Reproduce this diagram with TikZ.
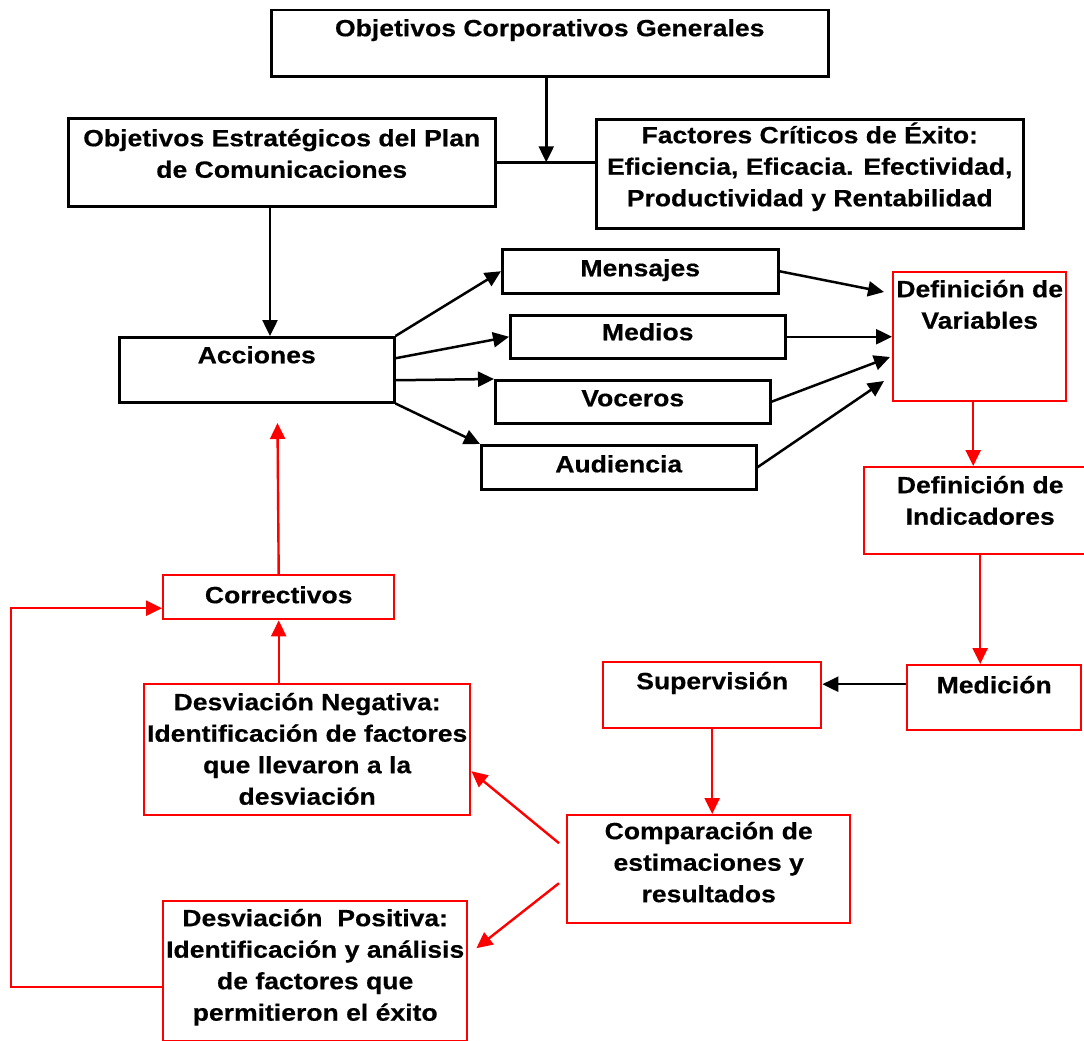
\documentclass[tikz,border=0pt]{standalone}
\usepackage{fontspec}
\setmainfont{Liberation Sans}[FakeStretch=1.13, BoldFeatures={FakeBold=0.5}]
\usetikzlibrary{arrows.meta,calc}
\newcommand{\cell}[4]{\parbox[t][#2pt][t]{#1pt}{\centering\vspace*{0pt}\rule{0pt}{#3pt}#4\par}}
\tikzset{
  bx/.style={draw=black, line width=2.5pt, inner sep=0pt, anchor=north west,
    font=\fontsize{23.5}{31.5}\selectfont\bfseries, text=black},
  rbx/.style={bx, draw=red, line width=2.4pt},
  ln/.style={line width=2.5pt, draw=black},
  arr/.style={ln, -{Triangle[length=16pt,width=15pt]}},
  rarr/.style={arr, draw=red, color=red, line width=2.4pt},
  rln/.style={line width=2.4pt, draw=red}
}
\begin{document}
\begin{tikzpicture}[x=1pt,y=-1pt]
\useasboundingbox (0,0) rectangle (1084,1041);
% black boxes
\node[bx] (top) at (270,9) {\cell{557}{66}{26}{Objetivos Corporativos Generales}};
\node[bx] (oe) at (67,117) {\cell{427}{88}{28}{Objetivos Estratégicos del Plan\\de Comunicaciones}};
\node[bx] (fce) at (595,118) {\cell{427}{109}{24}{Factores Críticos de Éxito:\\Eficiencia, Eficacia. Efectividad,\\Productividad y Rentabilidad}};
\node[bx] (acc) at (118,336) {\cell{275}{65}{26}{Acciones}};
\node[bx] (mens) at (501,248) {\cell{276}{44}{27}{Mensajes}};
\node[bx] (med) at (509,314) {\cell{275}{43}{25}{Medios}};
\node[bx] (voc) at (494,379) {\cell{275}{43}{26}{Voceros}};
\node[bx] (aud) at (480,444) {\cell{275}{44}{27}{Audiencia}};
% red boxes
\node[rbx] (dv) at (892,271) {\cell{173}{129}{25}{Definición de\\Variables}};
\node[rbx] (di) at (863,466) {\cell{232}{87}{26}{Definición de\\Indicadores}};
\node[rbx] (mdn) at (906,664) {\cell{174}{65}{28}{Medición}};
\node[rbx] (sup) at (602,661) {\cell{218}{66}{27}{Supervisión}};
\node[rbx] (cmp) at (566,814) {\cell{283}{108}{24}{Comparación de\\estimaciones y\\resultados}};
\node[rbx] (dn) at (143,683) {\cell{326}{131}{26}{Desviación Negativa:\\Identificación de factores\\que llevaron a la\\desviación}};
\node[rbx] (dp) at (162,900) {\cell{304}{140}{25}{Desviación~ Positiva:\\Identificación y análisis\\de factores que\\permitieron el éxito}};
\node[rbx] (cor) at (162,574) {\cell{231}{44}{28}{Correctivos}};
% free ends
\coordinate (dv1) at (884,292);
\coordinate (dv3) at (890,357);
\coordinate (dv4) at (884,381);
\coordinate (up) at (277.5,423);
\coordinate (x270) at (270,0);
% black connectors
\draw[arr] ([xshift=-3.5]top.south) -- ([xshift=-3.5]top.south |- oe.east);
\draw[ln] (oe.east) -- (oe.east -| fce.west);
\draw[arr] (oe.south -| x270) -- (acc.north -| x270);
\draw[arr] (acc.north east) -- (mens.west);
\draw[arr] ([yshift=11.5]acc.east) -- (med.west);
\draw[arr] ([yshift=-10.5]acc.east) -- (voc.north west);
\draw[arr] (acc.south east) -- (aud.north west);
\draw[arr] (mens.east) -- (dv1);
\draw[arr] (med.east) -- (med.east -| dv.west);
\draw[arr] (voc.east) -- (dv3);
\draw[arr] (aud.east) -- (dv4);
\draw[arr] ([yshift=13.5]mdn.west) -- ([yshift=13.5]mdn.west -| sup.east);
% red connectors
\draw[rarr] ([xshift=-6.5]dv.south) -- ([xshift=-6.5]dv.south |- di.north);
\draw[rarr] (di.south) -- (di.south |- mdn.north);
\draw[rarr] (sup.south) -- (sup.south |- cmp.north);
\draw[rarr] ([xshift=-7,yshift=26]cmp.west) -- ([yshift=-21.5]dn.east);
\draw[rarr] ([xshift=-7,yshift=-14]cmp.west) -- ([xshift=8,yshift=23]dp.east);
\draw[rarr] (dn.north -| cor.south) -- (cor.south);
\draw[rarr] ([yshift=-16]dp.west) -- ++(-151,0) |- ([yshift=-11]cor.west);
\draw[rarr] (cor.north) -- (up);
\end{tikzpicture}
\end{document}
